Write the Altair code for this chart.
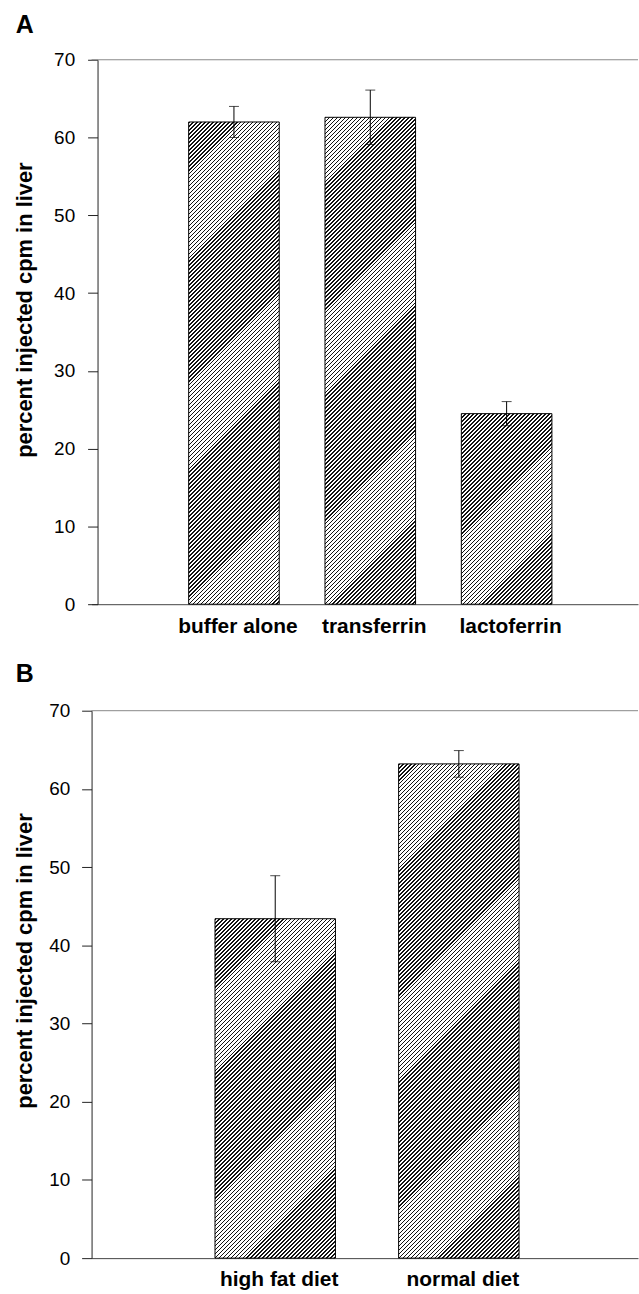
import math
import altair as alt
import pandas as pd

# ---- data ----
Y_MAX = 70
Y_TICKS = [0, 10, 20, 30, 40, 50, 60, 70]
Y_TITLE = "percent injected cpm in liver"

A_CATS = ["buffer alone", "transferrin", "lactoferrin"]
A_MEANS = [62.0, 62.6, 24.5]
A_ERRS = [2.0, 3.5, 1.55]

B_CATS = ["high fat diet", "normal diet"]
B_MEANS = [43.4, 63.2]
B_ERRS = [5.5, 1.7]

FONT = "Liberation Sans"

# hatch styling (pixels)
HATCH_PERIOD = 4       # horizontal distance between stripes
HATCH_BLACK = 1.6      # horizontal thickness of a stripe
TILE_STEP = 12         # tiles restart every 12 px (multiple of the period)
TILE_H = 13            # 1 px overlap between tiles


def hatch(w, hc):
    """Diagonal '/' stripes as a hard-stop linear gradient in bbox units."""
    L = w + hc
    r = w / hc
    s = (1 + r) / (1 + r * r)
    stops = []
    k = 0
    while k * HATCH_PERIOD < L:
        a = k * HATCH_PERIOD
        b = min(a + HATCH_BLACK, L)
        c = min(a + HATCH_PERIOD, L)
        stops += [(a, "#111111"), (b, "#111111"), (b, "#ffffff"), (c, "#ffffff")]
        k += 1
    return alt.LinearGradient(
        gradient="linear",
        stops=[alt.GradientStop(offset=o / L, color=col) for o, col in stops],
        x1=0, y1=0, x2=s * r, y2=s)


def panel(cats, means, errs, label, width, height, bar_w, pad_outer, align,
          axis_offset, title_pad, label_pad, title_offset):
    df = pd.DataFrame({
        "cat": cats,
        "mean": means,
        "lo": [m - e for m, e in zip(means, errs)],
        "hi": [m + e for m, e in zip(means, errs)],
    })
    # hatch tiles derived from the bar values (top of each bar downwards)
    step_d = TILE_STEP / height * Y_MAX
    tile_d = TILE_H / height * Y_MAX
    rows = []
    for c, m in zip(cats, means):
        for j in range(math.ceil(m / step_d)):
            rows.append({"cat": c, "t0": m - j * step_d, "t1": m - j * step_d - tile_d})
    tiles = pd.DataFrame(rows)

    base = alt.Chart(df)
    x = alt.X("cat:N", sort=cats,
              scale=alt.Scale(type="band", domain=cats, paddingInner=0,
                              paddingOuter=pad_outer, align=align),
              axis=alt.Axis(title=None, labelAngle=0, ticks=False, tickSize=0,
                            labelPadding=11, labelOffset=4, labelFontSize=21,
                            labelFontWeight="bold", labelFont=FONT, labelColor="black",
                            domainColor="#444444", domainWidth=1))
    yscale = alt.Scale(domain=[0, Y_MAX], nice=False)
    yaxis = alt.Axis(values=Y_TICKS, title=Y_TITLE, titleFont=FONT, titleFontSize=22,
                     titleFontWeight="bold", titleColor="black", titlePadding=title_pad,
                     titleY=251,
                     labelFont=FONT, labelFontSize=19, labelColor="black",
                     labelPadding=label_pad, tickSize=10, tickColor="#222222",
                     domainColor="#222222", grid=False, offset=axis_offset)

    top = alt.Chart(pd.DataFrame({"v": [Y_MAX]})).mark_rule(
        color="#888888", strokeWidth=1).encode(
        y=alt.Y("v:Q", scale=yscale, axis=yaxis))

    hatch_layer = alt.Chart(tiles).mark_bar(
        fill=hatch(bar_w, TILE_H), strokeWidth=0, width=bar_w, clip=True
    ).encode(x=x, y=alt.Y("t0:Q", scale=yscale, axis=yaxis), y2="t1:Q")

    outline = base.mark_bar(fill="white", fillOpacity=0, stroke="black",
                            strokeWidth=1, width=bar_w).encode(
        x=x, y=alt.Y("mean:Q", scale=yscale, axis=yaxis))

    err = base.mark_rule(color="black", strokeWidth=1).encode(
        x=x, y=alt.Y("lo:Q", scale=yscale, axis=yaxis), y2="hi:Q")
    cap_lo = base.mark_tick(color="black", size=10, thickness=1).encode(
        x=x, y=alt.Y("lo:Q", scale=yscale, axis=yaxis))
    cap_hi = base.mark_tick(color="black", size=10, thickness=1).encode(
        x=x, y=alt.Y("hi:Q", scale=yscale, axis=yaxis))

    return alt.layer(top, hatch_layer, outline, err, cap_lo, cap_hi).properties(
        width=width, height=height,
        title=alt.TitleParams(label, anchor="start", font=FONT, fontSize=25,
                              fontWeight="bold", color="black", offset=title_offset, dx=2),
    )


chart_a = panel(A_CATS, A_MEANS, A_ERRS, "A", width=549, height=547, bar_w=91,
                pad_outer=0.504, align=0.54, axis_offset=-6, title_pad=17, label_pad=13,
                title_offset=13)
chart_b = panel(B_CATS, B_MEANS, B_ERRS, "B", width=549, height=550, bar_w=121,
                pad_outer=0.488, align=0.5125, axis_offset=0, title_pad=12, label_pad=12,
                title_offset=15)

chart = alt.vconcat(chart_a, chart_b, spacing=26).properties(
    padding={"left": 13, "top": 10, "right": 0, "bottom": 0}
).configure_view(stroke=None)

chart.save("out.html", embed_options={"renderer": "svg", "actions": False})
